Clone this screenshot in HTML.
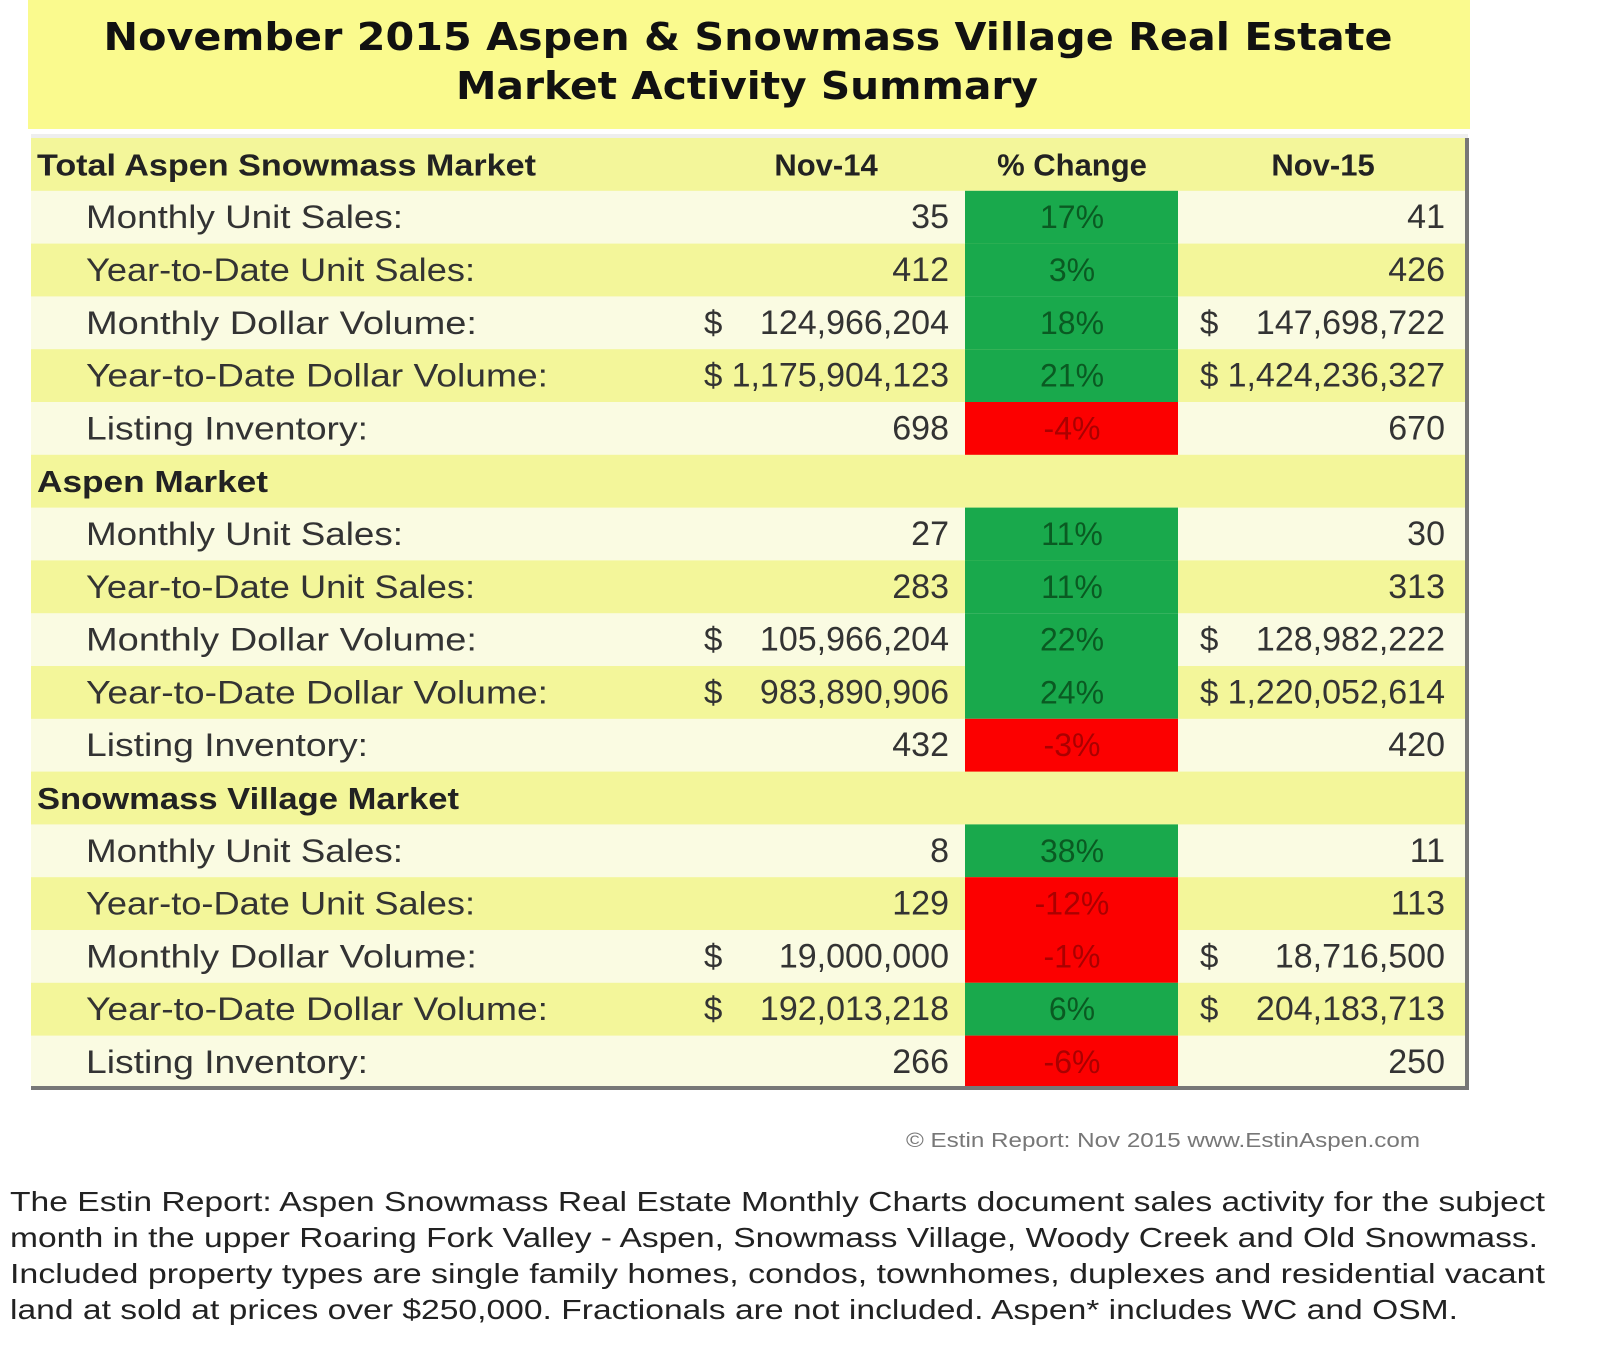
<!DOCTYPE html>
<html><head><meta charset="utf-8"><style>
html,body{margin:0;padding:0;background:#fff;}
svg{display:block;}
</style></head><body>
<svg width="1600" height="1360" viewBox="0 0 1600 1360" xmlns="http://www.w3.org/2000/svg">
<rect x="0" y="0" width="1600" height="1360" fill="#ffffff"/>
<rect x="28" y="0" width="1442" height="129" fill="#fafa8e"/>
<g font-family="'DejaVu Sans', 'Liberation Sans', sans-serif" font-weight="bold" font-size="38" fill="#111" text-anchor="middle">
<text x="748" y="50" textLength="1289" lengthAdjust="spacingAndGlyphs">November 2015 Aspen &amp; Snowmass Village Real Estate</text>
<text x="747" y="99" textLength="582" lengthAdjust="spacingAndGlyphs">Market Activity Summary</text>
</g>
<rect x="31" y="134" width="1437" height="4" fill="#eeeeee"/>
<g id="rows"></g>
<rect x="1465" y="138" width="4" height="952" fill="#777"/>
<rect x="31" y="1086" width="1438" height="4" fill="#777"/>
<text x="906" y="1147" font-family="'Liberation Sans', sans-serif" font-size="20" fill="#777" textLength="514" lengthAdjust="spacingAndGlyphs">© Estin Report: Nov 2015 www.EstinAspen.com</text>
<g font-family="'Liberation Sans', sans-serif" font-size="28" fill="#222">
<text x="10" y="1211" textLength="1535" lengthAdjust="spacingAndGlyphs">The Estin Report: Aspen Snowmass Real Estate Monthly Charts document sales activity for the subject</text>
<text x="10" y="1247" textLength="1528" lengthAdjust="spacingAndGlyphs">month in the upper Roaring Fork Valley - Aspen, Snowmass Village, Woody Creek and Old Snowmass.</text>
<text x="10" y="1283" textLength="1535" lengthAdjust="spacingAndGlyphs">Included property types are single family homes, condos, townhomes, duplexes and residential vacant</text>
<text x="10" y="1319" textLength="1448" lengthAdjust="spacingAndGlyphs">land at sold at prices over $250,000. Fractionals are not included. Aspen* includes WC and OSM.</text>
</g>
</svg>
<script>
(function(){
var rows=[
['h','Total Aspen Snowmass Market','Nov-14','% Change','Nov-15'],
['r','Monthly Unit Sales:','35','17%','41'],
['r','Year-to-Date Unit Sales:','412','3%','426'],
['r','Monthly Dollar Volume:','$124,966,204','18%','$147,698,722'],
['r','Year-to-Date Dollar Volume:','$1,175,904,123','21%','$1,424,236,327'],
['r','Listing Inventory:','698','-4%','670'],
['s','Aspen Market',231],
['r','Monthly Unit Sales:','27','11%','30'],
['r','Year-to-Date Unit Sales:','283','11%','313'],
['r','Monthly Dollar Volume:','$105,966,204','22%','$128,982,222'],
['r','Year-to-Date Dollar Volume:','$983,890,906','24%','$1,220,052,614'],
['r','Listing Inventory:','432','-3%','420'],
['s','Snowmass Village Market',422],
['r','Monthly Unit Sales:','8','38%','11'],
['r','Year-to-Date Unit Sales:','129','-12%','113'],
['r','Monthly Dollar Volume:','$19,000,000','-1%','$18,716,500'],
['r','Year-to-Date Dollar Volume:','$192,013,218','6%','$204,183,713'],
['r','Listing Inventory:','266','-6%','250']];
var LW={'Monthly Unit Sales:':317,'Year-to-Date Unit Sales:':389,'Monthly Dollar Volume:':391,'Year-to-Date Dollar Volume:':462,'Listing Inventory:':282};
var NS='http://www.w3.org/2000/svg';
var g=document.getElementById('rows');
function el(t,a,txt){var e=document.createElementNS(NS,t);for(var k in a)e.setAttribute(k,a[k]);if(txt!==undefined)e.textContent=txt;g.appendChild(e);return e;}
var y0=138,h=52.8,alt=0,F="'Liberation Sans', sans-serif";
rows.forEach(function(r,i){
 var y=y0+i*h, by=y+h/2+11, bg;
 if(r[0]!=='r'){bg='#f3f69a';alt=0;}
 else{alt++;bg=(alt%2===1)?'#fafbe2':'#f3f69a';}
 el('rect',{x:31,y:y,width:1435,height:h+0.6,fill:bg});
 if(r[0]==='h'){
  el('text',{x:37,y:by,'font-family':F,'font-size':31,'font-weight':'bold',fill:'#222',textLength:499,lengthAdjust:'spacingAndGlyphs'},r[1]);
  el('text',{x:826,y:by,'font-family':F,'font-size':31,'font-weight':'bold',fill:'#222','text-anchor':'middle'},r[2]);
  el('text',{x:1072,y:by,'font-family':F,'font-size':31,'font-weight':'bold',fill:'#222','text-anchor':'middle'},r[3]);
  el('text',{x:1323,y:by,'font-family':F,'font-size':31,'font-weight':'bold',fill:'#222','text-anchor':'middle'},r[4]);
  return;
 }
 if(r[0]==='s'){
  el('text',{x:37,y:by,'font-family':F,'font-size':31,'font-weight':'bold',fill:'#222',textLength:r[2],lengthAdjust:'spacingAndGlyphs'},r[1]);
  return;
 }
 var neg=r[3][0]==='-';
 el('rect',{x:965,y:y,width:213,height:h+0.6,fill:neg?'#fc0000':'#19a94c'});
 el('text',{x:86,y:by,'font-family':F,'font-size':32,fill:'#333',textLength:LW[r[1]],lengthAdjust:'spacingAndGlyphs'},r[1]);
 function val(v,xr,xd){
  if(v[0]==='$'){el('text',{x:xd,y:by,'font-family':F,'font-size':33,fill:'#333'},'$');v=v.slice(1);}
  el('text',{x:xr,y:by,'font-family':F,'font-size':34,fill:'#333','text-anchor':'end'},v);
 }
 val(r[2],949,704);
 val(r[4],1445,1200);
 el('text',{x:1072,y:by,'font-family':F,'font-size':32,fill:neg?'#a00':'#0a5a22','text-anchor':'middle'},r[3]);
});
})();
</script>
</body></html>
